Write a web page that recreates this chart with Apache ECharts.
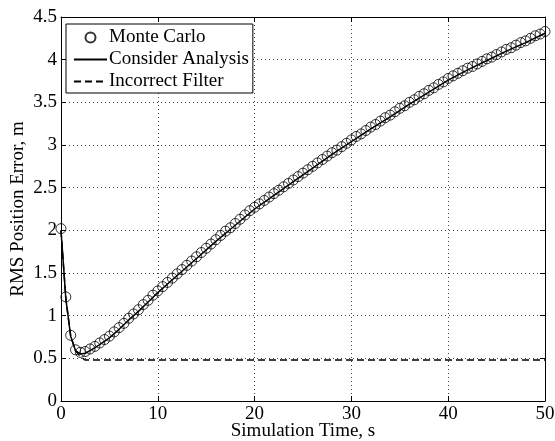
<!DOCTYPE html>
<html>
<head>
<meta charset="utf-8">
<script src="https://cdn.jsdelivr.net/npm/echarts@6/dist/echarts.min.js"></script>
<style>html,body{margin:0;padding:0;background:#fff}#c{width:555px;height:441px}</style>
</head>
<body>
<div id="c"></div>
<script>
// Monte Carlo samples every 0.5 s
var mcTimes = [0,0.5,1,1.5,2,2.5,3,3.5,4,4.5,5,5.5,6,6.5,7,7.5,8,8.5,9,9.5,10,
  10.5,11,11.5,12,12.5,13,13.5,14,14.5,15,15.5,16,16.5,17,17.5,18,18.5,19,19.5,20,
  20.5,21,21.5,22,22.5,23,23.5,24,24.5,25,25.5,26,26.5,27,27.5,28,28.5,29,29.5,30,
  30.5,31,31.5,32,32.5,33,33.5,34,34.5,35,35.5,36,36.5,37,37.5,38,38.5,39,39.5,40,
  40.5,41,41.5,42,42.5,43,43.5,44,44.5,45,45.5,46,46.5,47,47.5,48,48.5,49,49.5,50];
var mcValues = [2.02,1.22,0.77,0.60,0.57,0.58,0.61,0.64,0.68,0.72,0.76,0.81,0.86,0.91,0.97,1.02,1.07,1.13,1.18,1.24,1.29,
  1.34,1.39,1.44,1.49,1.54,1.59,1.64,1.69,1.74,1.79,1.84,1.89,1.94,1.99,2.03,2.08,2.13,2.18,2.23,2.27,
  2.31,2.35,2.39,2.43,2.47,2.51,2.55,2.59,2.63,2.67,2.71,2.75,2.79,2.83,2.87,2.91,2.94,2.98,3.02,3.06,
  3.10,3.13,3.17,3.21,3.24,3.28,3.32,3.35,3.39,3.43,3.46,3.50,3.53,3.57,3.60,3.64,3.67,3.71,3.74,3.78,
  3.81,3.84,3.87,3.90,3.92,3.95,3.98,4.01,4.03,4.06,4.09,4.12,4.14,4.17,4.20,4.22,4.25,4.28,4.30,4.33];
var considerTimes = [0,0.5,1,1.5,2,2.5,3,4,5,6,7,8,9,10,12,14,16,18,20,22,24,26,28,30,32,34,36,38,40,42,44,46,48,50];
var considerValues = [2.0,1.2,0.76,0.59,0.55,0.56,0.59,0.66,0.74,0.84,0.95,1.05,1.16,1.27,1.47,1.67,1.87,2.06,2.25,2.41,2.57,2.73,2.89,3.04,3.19,3.33,3.48,3.62,3.76,3.88,3.99,4.10,4.20,4.31];
var filterTimes = [0,0.5,1,1.5,2,2.5,50];
var filterValues = [2.0,1.2,0.76,0.59,0.52,0.48,0.48];
var seriesNames = ['Monte Carlo','Consider Analysis','Incorrect Filter'];
var xLabel = 'Simulation Time, s';
var yLabel = 'RMS Position Error, m';

function pairs(t, v){ return t.map(function(x,i){ return [x, v[i]]; }); }

var font = 'Liberation Serif, Times New Roman, serif';
var fs = 19;
var chart = echarts.init(document.getElementById('c'), null, {renderer:'canvas'});
var axisCommon = {
  axisLine:{show:true, onZero:false, lineStyle:{color:'#000', width:1}},
  axisTick:{show:true, inside:true, length:5, lineStyle:{color:'#000'}},
  splitLine:{show:false}
};
chart.setOption({
  animation:false,
  backgroundColor:'#fff',
  grid:{left:61, right:10, top:17, bottom:40, containLabel:false, outerBoundsMode:'none'},
  legend:{
    orient:'vertical', left:66, top:24,
    backgroundColor:'#fff', borderColor:'#000', borderWidth:1,
    padding:[4,4,2,7], itemGap:3, itemWidth:33, itemHeight:10,
    textStyle:{fontFamily:font, fontSize:fs, color:'#000', padding:[0,0,0,-3]},
    data:[
      {name:seriesNames[0]},
      {name:seriesNames[1], itemStyle:{opacity:0}},
      {name:seriesNames[2], itemStyle:{opacity:0}}
    ]
  },
  xAxis:[
    Object.assign({}, axisCommon, {
      type:'value', min:0, max:50, interval:10, position:'bottom',
      axisLabel:{color:'#000', fontFamily:font, fontSize:fs, margin:4},
      splitLine:{show:true, lineStyle:{color:'#444', width:1, type:[1,3]}},
      name:xLabel, nameLocation:'middle', nameGap:21, nameMoveOverlap:false,
      nameTextStyle:{color:'#000', fontFamily:font, fontSize:fs, verticalAlign:'top'}
    }),
    Object.assign({}, axisCommon, {
      type:'value', min:0, max:50, interval:10, position:'top',
      axisLabel:{show:false}
    })
  ],
  yAxis:[
    Object.assign({}, axisCommon, {
      type:'value', min:0, max:4.5, interval:0.5, position:'left',
      axisLabel:{color:'#000', fontFamily:font, fontSize:fs, margin:4},
      splitLine:{show:true, lineStyle:{color:'#444', width:1, type:[1,3]}},
      name:yLabel, nameLocation:'middle', nameGap:33, nameMoveOverlap:false,
      nameTextStyle:{color:'#000', fontFamily:font, fontSize:fs}
    }),
    Object.assign({}, axisCommon, {
      type:'value', min:0, max:4.5, interval:0.5, position:'right',
      axisLabel:{show:false}
    })
  ],
  series:[
    {
      name:seriesNames[0], type:'scatter', data:pairs(mcTimes, mcValues),
      symbol:'circle', symbolSize:10, z:3,
      itemStyle:{color:'rgba(255,255,255,0)', borderColor:'#000', borderWidth:1}
    },
    {
      name:seriesNames[1], type:'line', data:pairs(considerTimes, considerValues),
      symbol:'none', smooth:false, z:4,
      lineStyle:{color:'#000', width:1.5, type:'solid'}, itemStyle:{color:'#000'}
    },
    {
      name:seriesNames[2], type:'line', data:pairs(filterTimes, filterValues),
      symbol:'none', z:4,
      lineStyle:{color:'#000', width:1.5, type:[7,4]}, itemStyle:{color:'#000'}
    }
  ]
});
</script>
</body>
</html>
